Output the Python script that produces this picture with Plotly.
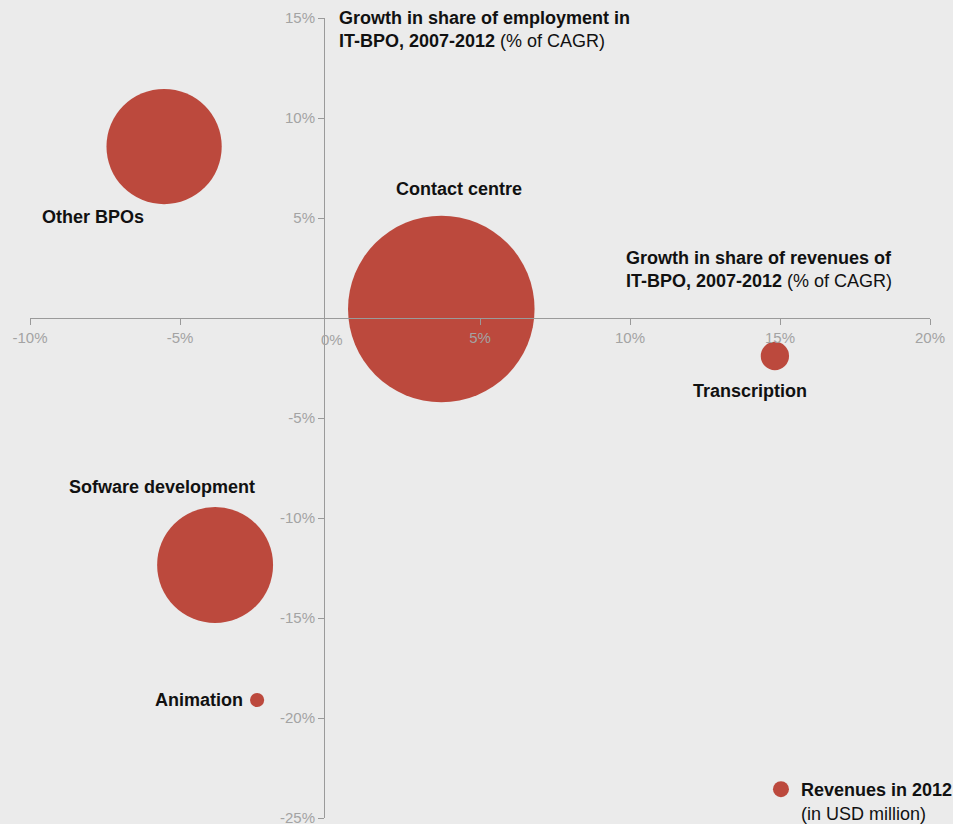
import plotly.graph_objects as go

# ---- data ----
categories = ["Other BPOs", "Contact centre", "Transcription", "Sofware development", "Animation"]
revenue_growth = [-5.53, 3.71, 14.83, -3.83, -2.43]      # x: growth in share of revenues (% CAGR)
employment_growth = [8.57, 0.45, -1.9, -12.35, -19.1]    # y: growth in share of employment (% CAGR)
revenues_2012 = [3320, 8700, 200, 3360, 50]              # bubble area (USD million)

x_ticks = [-10, -5, 5, 10, 15, 20]
y_ticks = [15, 10, 5, -5, -10, -15, -20, -25]

# label placement (styling): pixel offsets from bubble centre
label_dx = [-71, 18, -25, -53, -12]
label_dy = [-70, 120, -35, 78, 0]
label_anchor = ["center", "center", "center", "center", "right"]

FONT = "Helvetica Neue, Liberation Sans, Arial, sans-serif"
RED = "#BC493D"
BG = "#EBEBEB"
AXIS = "#9a9a9a"
TICKF = "#a3a3a3"

fig = go.Figure()
fig.add_trace(go.Scatter(
    x=revenue_growth, y=employment_growth, mode="markers",
    marker=dict(size=revenues_2012, sizemode="area", sizeref=0.5,
                color=RED, opacity=1, line=dict(width=0)),
    name="<b>Revenues in 2012</b><br>(in USD million)",
    text=categories, hoverinfo="text", showlegend=True,
))

annotations = []
for cat, x, y, dx, dy, anc in zip(categories, revenue_growth, employment_growth,
                                  label_dx, label_dy, label_anchor):
    annotations.append(dict(
        x=x, y=y, xref="x", yref="y", text=f"<b>{cat}</b>", showarrow=False,
        xanchor=anc, yanchor="middle", xshift=dx, yshift=dy,
        font=dict(family=FONT, size=18, color="#111"),
    ))

# 0% label on x axis (no tick mark in original)
annotations.append(dict(
    x=0, y=0, xref="x", yref="y", text="0%", showarrow=False,
    xanchor="center", yanchor="top", yshift=-11, xshift=2,
    font=dict(family=FONT, size=15, color=TICKF),
))

# axis titles
annotations.append(dict(
    x=0.3411, y=1.0155, xref="paper", yref="paper",
    text="<b>Growth in share of employment in<br>IT-BPO, 2007-2012</b> (% of CAGR)",
    showarrow=False, xanchor="left", yanchor="top", align="left",
    font=dict(family=FONT, size=18, color="#111"),
))
annotations.append(dict(
    x=0.66, y=0.7155, xref="paper", yref="paper",
    text="<b>Growth in share of revenues of<br>IT-BPO, 2007-2012</b> (% of CAGR)",
    showarrow=False, xanchor="left", yanchor="top", align="left",
    font=dict(family=FONT, size=18, color="#111"),
))

axis_common = dict(
    showgrid=False, zeroline=False, showline=True, linecolor=AXIS, linewidth=1,
    ticks="outside", ticklen=6, tickcolor=AXIS, tickwidth=1,
    tickfont=dict(family=FONT, size=15, color=TICKF), anchor="free",
    ticklabeloverflow="allow", fixedrange=True,
)

fig.update_layout(
    width=953, height=824,
    margin=dict(l=30, r=23, t=18, b=6, autoexpand=False),
    paper_bgcolor=BG, plot_bgcolor=BG,
    xaxis=dict(range=[-10, 20], tickvals=x_ticks, ticktext=[f"{v}%" for v in x_ticks],
               position=0.625, **axis_common),
    yaxis=dict(range=[-25, 15], tickvals=y_ticks, ticktext=[f"{v}%" for v in y_ticks],
               position=0.3267, **axis_common),
    annotations=annotations,
    showlegend=True,
    legend=dict(x=0.7985, y=0.0643, xref="container", yref="container",
                xanchor="left", yanchor="top",
                bgcolor="rgba(0,0,0,0)", valign="top", itemsizing="trace",
                font=dict(family=FONT, size=18, color="#111")),
    font=dict(family=FONT),
)

fig.write_html("out.html")
